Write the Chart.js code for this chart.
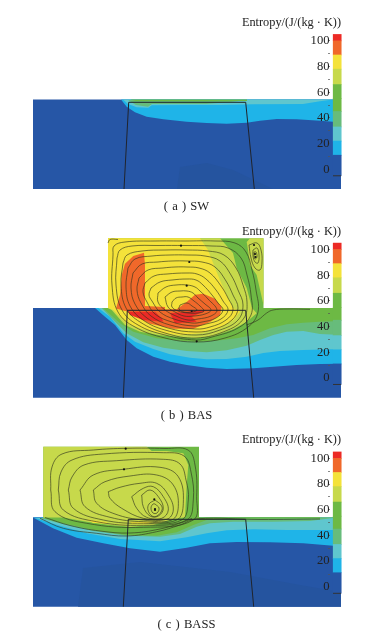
<!DOCTYPE html>
<html>
<head>
<meta charset="utf-8">
<title>Entropy contours</title>
<script src="https://cdn.jsdelivr.net/npm/chart.js@4"></script>
<style>
    html, body { margin: 0; background: #fff; }
    body { position: relative; width: 365px; height: 637px; overflow: hidden; font-family: "Liberation Serif", serif; color: #222; }
    canvas { position: absolute; left: 0; }
    .unit, .caption { position: absolute; white-space: pre; line-height: 16px; }
    .unit { font-size: 12.3px; right: 24px; }
    .caption { font-size: 12.6px; left: 0; width: 373px; text-align: center; word-spacing: 1px; }
</style>
</head>
<body>
<canvas id="panelA" width="365" height="212" style="top:0"></canvas>
<canvas id="panelB" width="365" height="210" style="top:212px"></canvas>
<canvas id="panelC" width="365" height="215" style="top:422px"></canvas>
<div class="unit" style="top:13.5px">Entropy/(J/(kg · K))</div>
<div class="unit" style="top:222.5px">Entropy/(J/(kg · K))</div>
<div class="unit" style="top:430.5px">Entropy/(J/(kg · K))</div>
<div class="caption" style="top:198px">( a ) SW</div>
<div class="caption" style="top:407px">( b ) BAS</div>
<div class="caption" style="top:616px">( c ) BASS</div>
<script>
// colour bar, top band first
const legendEdges = [105, 100, 89, 78, 66, 55, 45, 33, 22, 11, -5];
const legendColors = ['#ec2a25', '#f0682a', '#f4e23a', '#c7d94b', '#6db944', '#6db944', '#67bc7b', '#5fc6ce', '#1fb4e8', '#2656a6'];
const legendTicks = [100, 90, 80, 70, 60, 50, 40, 30, 20, 10, 0];
const tickLabels = [100, 80, 60, 40, 20, 0];

const BLUE = '#2656a6', DARKBLUE = '#25549f', CYAN = '#1fb4e8', TEAL = '#5fc6ce', SEAGREEN = '#67bc7b';
const GREEN = '#6db944', LIME = '#c7d94b', YELLOW = '#f4e23a', ORANGE = '#f0682a', RED = '#ec2a25';

// all shapes below are x,y pairs read off the picture
// panel a
const aBlue = [33,99.5, 341,99.5, 341,189, 33,189];
const aDark = [177,189, 180,167, 207,163, 233,170, 273,189];
const aCyan = [121,99.5, 126.7,106.7, 135,112.3, 146.7,116.7, 163.3,119.3, 186.7,121.7, 206.7,123, 226.7,123.7, 246.7,122.7, 260,120.7, 276.7,119, 296.7,119.3, 320,120.7, 333,121.7, 341,121.7, 341,99.5];
const aTeal = [123,99.5, 128,104, 136.7,107.3, 148.3,107.7, 151.7,105.3, 186.7,105, 220,105, 253,104.3, 303,104, 320,101.3, 333,99.5];
const aSea = [128,100, 136,105, 148,106.7, 152,104, 206,104, 233,101.7, 247,100];
const aGreen = [130,99.5, 136,101, 247,101, 247,99.5];
const aFrame = [124,189, 128.7,102.3, 245.7,102.3, 254.3,189];

// panel b
const bBlue = [33,308, 341,308, 341,397.7, 33,397.7];
const bCyan = [95,308, 105,316.7, 115,325, 126.7,340, 136.7,348.3, 153.3,356.7, 170,361.7, 186.7,365, 206.7,367.7, 226.7,369, 253.3,368.3, 273.3,366.7, 296.7,365, 320,364, 341,363.7, 341,308];
const bTeal = [98.3,308, 110,316.7, 123.3,333.3, 135,341.7, 153.3,349, 170,354.3, 190,357.7, 206.7,359.3, 226.7,359, 246.7,356.7, 263.3,353, 280,351, 303.3,350, 341,349, 341,308];
const bSea = [101.7,308, 115,321.7, 126.7,333.3, 143.3,342.3, 163.3,347.7, 186.7,351, 206.7,352.3, 226.7,350.3, 246.7,345.7, 260,340, 273.3,335, 286.7,331.7, 303.3,331, 320,334, 341,335, 341,308];
const bGreen = [103.3,308.3, 120,323.3, 133.3,331.7, 156.7,338.3, 180,340.7, 196.7,341.7, 220,340.3, 236.7,338.3, 253.3,335, 270,328.3, 286.7,324.3, 303.3,322.7, 320,321.7, 341,321, 341,308, 263.5,308, 263.5,238.3, 108,238.3, 108,308];
const bLime = [108,308, 111.7,310, 125,325, 140,331.7, 160,335.3, 183.3,337.3, 196.7,338.3, 213.3,336, 233.3,329.3, 246.7,321.7, 256.7,313.3, 252,308, 246.7,288, 236.7,268, 233,253, 220,238.3, 108,238.3];
const bLimeStrip = [246.7,242, 250,238.3, 263.5,238.3, 263.5,305, 256.7,275, 250,265.3, 248.3,252];
const bYellow = [108,238.3, 200,238.3, 208,250, 215,268, 222,285, 228,298, 233,308, 240,311.7, 233.3,320, 220,328.3, 200,333.3, 180,335, 160,333.3, 140,328.3, 126.7,323.3, 113.3,310, 108,308];
const bOrangeLeft = [116,308.5, 120,295, 121.7,275.3, 125,263.7, 133.3,256, 144,252.7, 145,265.3, 145,306, 165,307, 165,310, 125,311];
const bOrangeLow = [176.7,309.3, 186.7,302, 195,294.7, 203.3,293.7, 215,298.7, 221.7,307, 220,315.3, 210,322, 193.3,328.7, 173.3,328.7, 150,323.7, 130,313.7, 125,310.3];
const bRedLeft = [128.3,311.7, 155,311.7, 161.7,318.3, 163.3,321.7, 143.3,320, 130,315];
const bRedRight = [170,313.3, 206.7,310, 191.7,316.7, 196.7,321.7, 175,323.3];
const bFrame = [123.3,397.7, 127.3,310.3, 245.7,310.3, 253.7,397.7];
const bStreamlines = [
    [113,255, 114,246, 125,242, 155,241, 185,241, 215,241, 235,243, 246,252, 252,270, 256,290, 258,312, 248,327, 225,338, 196,342, 165,338, 135,327, 118,312, 112,285, 113,255],
    [117,258, 120,250, 132,246, 158,245.5, 185,245.5, 212,246, 228,248, 241,258, 247,275, 251,295, 251,315, 238,328, 212,337, 196,340, 165,335, 138,325, 122,310, 116,285, 117,258],
    [123,263, 127,255, 142,251, 165,250, 187,250, 208,251, 224,255, 236,268, 243,285, 247,302, 244,318, 228,330, 196,338, 165,333, 140,322, 126,308, 121,285, 123,263],
    [128,268, 135,259, 152,256, 170,255, 187,255, 205,256, 220,261, 231,275, 238,290, 243,305, 238,320, 220,330, 196,335, 165,330, 143,320, 130,306, 126,287, 128,268],
    [133,273, 142,264, 158,262, 172,261, 187,261, 202,262, 215,267, 226,281, 233,295, 238,308, 232,320, 215,329, 196,332, 168,328, 147,318, 135,304, 131,288, 133,273],
    [139,278, 148,270, 163,268, 175,267, 187,267, 199,268, 210,273, 221,286, 228,298, 233,310, 226,320, 210,327, 196,329, 170,325, 151,316, 141,303, 137,290, 139,278],
    [145,283, 154,276, 167,274, 187,273, 197,274, 206,279, 216,290, 223,301, 228,310, 221,319, 206,324, 194,326, 172,322, 155,314, 147,302, 143,292, 145,283],
    [151,288, 160,282, 172,280, 187,279, 196,280, 203,285, 212,295, 218,303, 223,310, 216,318, 202,322, 192,323, 174,319, 160,312, 152,301, 149,295, 151,288],
    [158,293, 166,287, 176,285, 187,285, 195,287, 200,291, 208,299, 217,310, 211,316, 198,319, 188,320, 176,316, 165,310, 158,302, 158,293],
    [165,297, 172,292, 180,291, 187,291, 193,293, 198,298, 205,304, 211,310, 205,314, 194,316, 184,316, 175,312, 168,307, 165,297],
    [172,302, 176,298, 182,297, 188,297, 194,301, 200,306, 204,311, 198,313, 188,313, 178,311, 172,307, 172,302],
    [180,305, 187,303, 192,306, 197,310, 192,312, 184,312, 179,309, 180,305],
    [249,245, 257,243, 261,250, 262,262, 260,270, 255,268, 251,258, 249,245],
    [253,250, 257,248, 259,255, 258,263, 255,262, 253,256, 253,250],
    [254,252, 256,252, 257,257, 255,259, 254,256, 254,252],
    [246.7,325, 258,320, 266.7,313, 273,310, 287,309, 310,309.3],
    [108,243, 110,239.5, 118,239.5]
];
const bDots = [181,245.7, 189.3,262, 186.7,285.7, 191.7,311, 196.7,341.3, 254,245, 255,254, 255.5,257];

// panel c
const cBlue = [33,517.3, 341,517.3, 341,606.7, 33,606.7];
const cDark = [78,606.7, 83,568, 140,562, 230,572, 300,585, 341,592, 341,606.7];
const cCyan = [33,517.5, 53,528.3, 76.7,537.7, 103.3,543.3, 130,548.3, 160,551.7, 186.7,547.7, 210,543.3, 236.7,542, 270,542.3, 303.3,543.3, 333,545.7, 341,545.7, 341,517.3];
const cTeal = [35,518, 60,525.7, 86.7,533.3, 120,539, 160,541.3, 186.7,537.3, 206.7,533.3, 226.7,530.3, 253.3,529.3, 286.7,530, 341,530, 341,517.3];
const cSea = [40,518, 63.3,524.3, 93.3,531, 126.7,535.7, 160,536.7, 180,534, 196.7,526.7, 210,523.3, 233.3,521.7, 273.3,521.7, 310,521, 333,518, 333,517.3];
const cGreen = [43,518, 66.7,524, 93.3,530, 126.7,535, 156.7,535.7, 176.7,532.3, 193.3,525, 206.7,520, 226.7,518.7, 286.7,518.5, 320,518.5, 320,517.3, 199,517.3, 199,446.7, 43.3,446.7, 43.3,517.3];
const cLime = [43.3,446.7, 146.7,446.7, 151.7,451, 166.7,451, 183.3,453.3, 188.3,465, 186.7,485, 185,517.3, 180,518, 170,520, 153.3,525, 130,526.7, 110,525, 86.7,521.7, 63.3,517.5, 43.3,517.5];
const cYellowLeft = [86.7,519.3, 106.7,522, 108,523.5, 93,523];
const cYellowRight = [130,521.7, 153.3,521.7, 146.7,524, 131.7,524];
const cFrame = [123.3,606.7, 128.3,519.3, 245.7,519.3, 253.7,606.7];
const cStreamlines = [
    [155,504, 159,508, 157,513, 153,513, 151,508, 153,504, 155,504],
    [155,500, 161,505, 162,510, 157,516, 152,516, 148,510, 149,504, 155,500],
    [141.7,495, 150,490, 158.3,496.7, 163.3,508.3, 158.3,516, 150,516, 143.3,506.7, 141.7,495],
    [131.7,496.7, 143.3,488.3, 153.3,486.7, 163.3,496.7, 168.3,510, 161.7,518.3, 146.7,517.3, 136.7,508.3, 131.7,496.7],
    [108.3,491.7, 120,487.3, 140,483.3, 156.7,483.3, 168.3,495, 173.3,510, 166.7,519.3, 143.3,518.3, 121.7,508.3, 110,498.3, 108.3,491.7],
    [93.3,490, 105,481.7, 130,476, 156.7,475, 173.3,485, 178.3,506.7, 171.7,520, 143.3,520, 115,514, 96.7,503.3, 93.3,490],
    [80,490, 93.3,475, 123.3,469.3, 160,467.3, 178.3,476.7, 183.3,503.3, 176.7,520, 143.3,521.7, 110,517.3, 85,506.7, 80,490],
    [68.3,490, 72,477, 84,465, 116.7,460.7, 163.3,459.3, 180,464, 186,480, 188.3,500, 181.7,520, 143.3,523.3, 103.3,520, 73.3,508.3, 68.3,490],
    [58.3,490, 61,472, 72,460, 103.3,454, 163.3,452.7, 184,456, 191,472, 193.3,500, 186.7,520, 143.3,525.3, 96.7,521.7, 63.3,510, 58.3,490],
    [50.7,490, 52,467, 62,454, 93.3,450, 126.7,448.3, 165,448.5, 188,450, 195,465, 196.7,496.7, 193.3,520, 143.3,527.3, 86.7,523.3, 55,511.7, 50.7,490],
    [40,518.3, 63.3,528.3, 96.7,533.3, 126.7,536, 156.7,531.7, 180,525, 196.7,518.8, 260,519.5, 320,519],
    [45,517.5, 70,525.5, 100,531, 130,533, 160,529, 182,522.5, 192,518.5]
];
const cDots = [125.7,448.7, 124,469.3, 154.3,499.3, 155,509, 155,510];

// legend value range that fills each canvas, so the bar lines up with its ticks
const panels = [
    { id: 'panelA', top: 0, bottom: 212, legendMax: 131.8, legendMin: -33.2,
      regions: [[aBlue, BLUE], [aDark, DARKBLUE], [aCyan, CYAN], [aTeal, TEAL], [aSea, SEAGREEN], [aGreen, GREEN]],
      frame: aFrame, streamlines: [], dots: [] },
    { id: 'panelB', top: 212, bottom: 422, legendMax: 129.2, legendMin: -34.2,
      regions: [[bBlue, BLUE], [bCyan, CYAN], [bTeal, TEAL], [bSea, SEAGREEN], [bGreen, GREEN], [bLime, LIME], [bLimeStrip, LIME], [bYellow, YELLOW], [bOrangeLeft, ORANGE], [bOrangeLow, ORANGE], [bRedLeft, RED], [bRedRight, RED]],
      frame: bFrame, streamlines: bStreamlines, dots: bDots },
    { id: 'panelC', top: 422, bottom: 637, legendMax: 128.3, legendMin: -39,
      regions: [[cBlue, BLUE], [cDark, DARKBLUE], [cCyan, CYAN], [cTeal, TEAL], [cSea, SEAGREEN], [cGreen, GREEN], [cLime, LIME], [cYellowLeft, YELLOW], [cYellowRight, YELLOW]],
      frame: cFrame, streamlines: cStreamlines, dots: cDots }
];

function toPoints(flat) {
    const points = [];
    for (let i = 0; i < flat.length; i += 2) {
        points.push({ x: flat[i], y: flat[i + 1] });
    }
    return points;
}

function regionDataset(flat, color) {
    return {
        type: 'scatter', data: toPoints(flat), showLine: true, fill: 'shape',
        backgroundColor: color, borderColor: color, borderWidth: 0, pointRadius: 0, tension: 0
    };
}

function lineDataset(flat, color, width, tension) {
    return {
        type: 'scatter', data: toPoints(flat), showLine: true, fill: false,
        borderColor: color, borderWidth: width, pointRadius: 0, tension: tension
    };
}

function createPanel(panel) {
    const datasets = panel.regions.map(([flat, color]) => regionDataset(flat, color));
    panel.streamlines.forEach(flat => datasets.push(lineDataset(flat, 'rgba(48,52,30,0.8)', 0.8, 0.4)));
    datasets.push({
        type: 'scatter', data: toPoints(panel.dots), showLine: false,
        pointRadius: 1.1, backgroundColor: '#111', borderWidth: 0
    });
    datasets.push(lineDataset(panel.frame, '#20242c', 1, 0));
    datasets.push({
        type: 'bar', yAxisID: 'legend', barThickness: 8, borderWidth: 0,
        data: legendColors.map((c, i) => ({ x: 337.2, y: [legendEdges[i + 1], legendEdges[i]] })),
        backgroundColor: legendColors
    });
    datasets.push({
        type: 'scatter', yAxisID: 'legend', showLine: true, pointRadius: 0, borderColor: '#333', borderWidth: 1,
        data: [{ x: 333, y: -5 }, { x: 341, y: -5 }]
    });
    // later entries paint on top
    datasets.forEach((d, i) => { d.order = datasets.length - i; });

    new Chart(document.getElementById(panel.id), {
        type: 'scatter',
        data: { datasets },
        options: {
            responsive: false,
            animation: false,
            layout: { padding: 0, autoPadding: false },
            events: [],
            plugins: { legend: { display: false }, tooltip: { enabled: false } },
            scales: {
                x: { type: 'linear', min: 0, max: 365, display: false, offset: false },
                y: { type: 'linear', min: panel.top, max: panel.bottom, reverse: true, display: false },
                legend: {
                    type: 'linear',
                    position: { x: 329.5 },
                    min: panel.legendMin,
                    max: panel.legendMax,
                    afterBuildTicks: axis => { axis.ticks = legendTicks.map(value => ({ value })); },
                    // the labels sit well inside the canvas, so keep them from shrinking the plot
                    afterFit: axis => { axis.paddingTop = 0; axis.paddingBottom = 0; },
                    border: { display: false },
                    grid: { drawOnChartArea: false, drawTicks: true, tickLength: 2, color: '#555', lineWidth: 0.7, z: 2 },
                    ticks: {
                        z: 2,
                        autoSkip: false,
                        color: '#222',
                        padding: 2,
                        font: { family: '"Liberation Serif", serif', size: 12.6 },
                        callback: value => (tickLabels.includes(value) ? String(value) : '')
                    }
                }
            }
        }
    });
}

panels.forEach(createPanel);
</script>
</body>
</html>
